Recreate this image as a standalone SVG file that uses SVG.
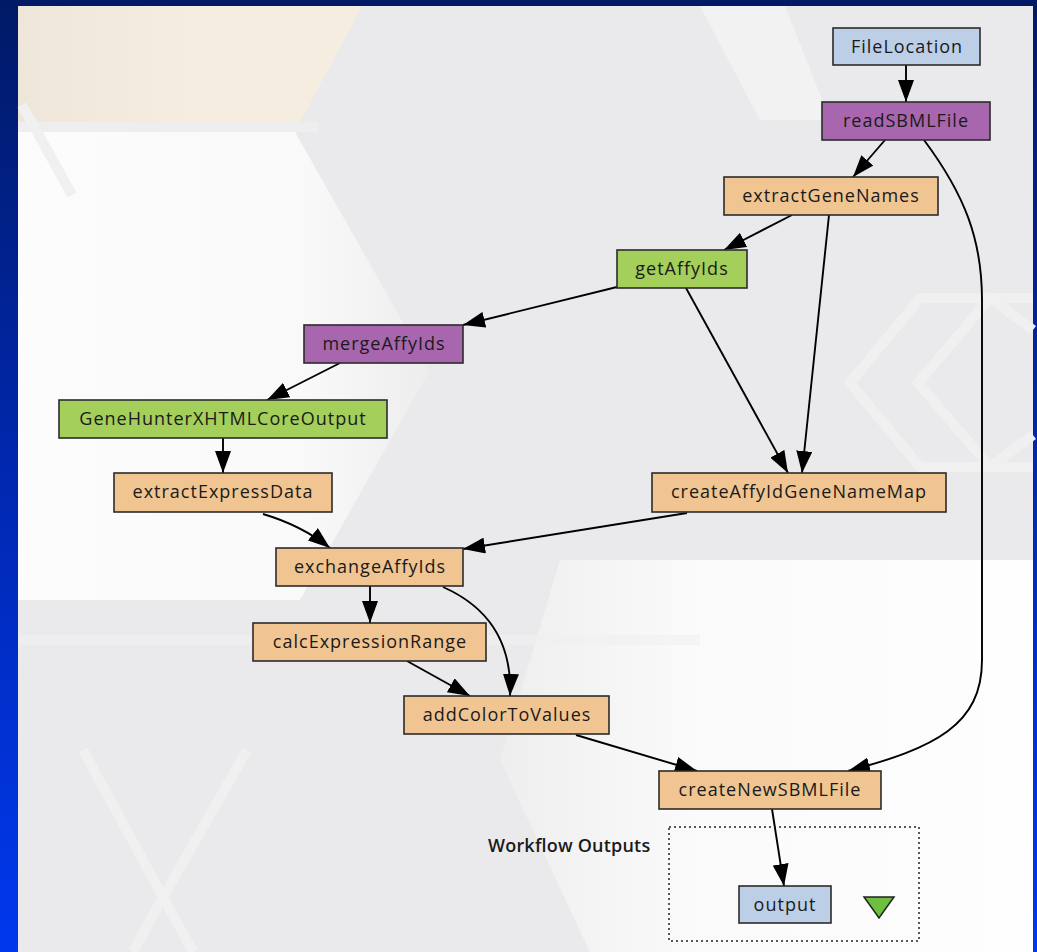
<svg xmlns="http://www.w3.org/2000/svg" width="1037" height="952" viewBox="0 0 1037 952">
<defs>
<linearGradient id="frame" x1="0" y1="0" x2="0" y2="1">
<stop offset="0" stop-color="#001a66"/>
<stop offset="0.5" stop-color="#0028b0"/>
<stop offset="1" stop-color="#0038ee"/>
</linearGradient>
<linearGradient id="beige" x1="0" y1="0" x2="1" y2="0">
<stop offset="0" stop-color="#efe6da"/>
<stop offset="0.5" stop-color="#f6ede1"/>
<stop offset="1" stop-color="#f6ede1"/>
</linearGradient>
<linearGradient id="whiteL" x1="0" y1="0" x2="1" y2="0">
<stop offset="0" stop-color="#fcfcfc"/>
<stop offset="0.7" stop-color="#f9f9fa"/>
<stop offset="1" stop-color="#ededee"/>
</linearGradient>
<linearGradient id="whiteR" x1="0" y1="0" x2="1" y2="0">
<stop offset="0" stop-color="#eeeeef"/>
<stop offset="0.35" stop-color="#fafafa"/>
<stop offset="1" stop-color="#fefefe"/>
</linearGradient>
<marker id="arr" markerWidth="22" markerHeight="16" refX="22" refY="8" orient="auto" markerUnits="userSpaceOnUse">
<path d="M0,0 L22,8 L0,16 z" fill="#000"/>
</marker>
<style>
.n rect{stroke:#2b2b2b;stroke-width:1.6}
.tan rect{fill:#f0c592}
.pur rect{fill:#a766ad}
.grn rect{fill:#a4cf5b}
.blu rect{fill:#bccfe7}
.n text{font-family:"Open Sans","DejaVu Sans",sans-serif;font-size:18px;letter-spacing:1px;fill:#1a1a1a;text-anchor:middle}
.c path{fill:none;stroke:#000;stroke-width:1.9;marker-end:url(#arr)}
.bgl{fill:none;stroke:#f0f0f1;stroke-width:10}
</style>
</defs>
<g id="background">
<rect x="0" y="0" width="1037" height="952" fill="url(#frame)"/>
<rect x="18" y="6" width="1015" height="946" fill="#eaeaec"/>
<polygon points="18,6 362,6 300,122 18,122" fill="url(#beige)"/>
<rect x="18" y="122" width="300" height="10" fill="#eeeeef"/>
<polygon points="18,132 295,132 430,370 300,600 18,600" fill="url(#whiteL)"/>
<polygon points="560,560 1033,560 1033,952 590,952 500,760" fill="url(#whiteR)"/>
<polygon points="700,6 785,6 830,120 760,120" fill="#f2f2f3"/>
<path class="bgl" d="M22,105 L72,195"/>
<path class="bgl" d="M83,750 L163,897 L133,952 M247,750 L163,897 L193,952"/>
<path class="bgl" d="M1033,298 L920,298 L850,383 L920,467 L1033,467 M1033,330 L990,298 L918,383 L990,467 L1033,435"/>
<path class="bgl" d="M18,640 L700,640" opacity="0.6"/>
</g>
<g id="connectors" class="c">
<path d="M906,65 L906,102"/>
<path d="M885,140 L853,177"/>
<path d="M924,140 C965,195 982,240 982,300 L982,660 C982,725 935,748 848,771"/>
<path d="M792,215 L724,250"/>
<path d="M829,215 L802,473"/>
<path d="M617,287 L463,325"/>
<path d="M686,288 L788,473"/>
<path d="M340,363 L267,400"/>
<path d="M223,438 L223,473"/>
<path d="M263,514 C290,522 310,532 330,548"/>
<path d="M687,513 L463,549"/>
<path d="M370,586 L370,623"/>
<path d="M443,587 C495,610 512,650 510,696"/>
<path d="M407,661 L470,696"/>
<path d="M576,735 L697,771"/>
<path d="M772,809 L784,886"/>
</g>
<g id="FileLocation" class="n blu"><rect x="833" y="28" width="147" height="37"/><text x="907" y="53">FileLocation</text></g>
<g id="readSBMLFile" class="n pur"><rect x="822" y="102" width="168" height="38"/><text x="906" y="127">readSBMLFile</text></g>
<g id="extractGeneNames" class="n tan"><rect x="724" y="177" width="214" height="38"/><text x="831" y="202">extractGeneNames</text></g>
<g id="getAffyIds" class="n grn"><rect x="617" y="250" width="130" height="38"/><text x="682" y="275">getAffyIds</text></g>
<g id="mergeAffyIds" class="n pur"><rect x="304" y="325" width="159" height="38"/><text x="384" y="350">mergeAffyIds</text></g>
<g id="GeneHunterXHTMLCoreOutput" class="n grn"><rect x="59" y="400" width="328" height="38"/><text x="223" y="425">GeneHunterXHTMLCoreOutput</text></g>
<g id="extractExpressData" class="n tan"><rect x="114" y="473" width="218" height="39"/><text x="223" y="498">extractExpressData</text></g>
<g id="createAffyIdGeneNameMap" class="n tan"><rect x="652" y="473" width="294" height="39"/><text x="799" y="498">createAffyIdGeneNameMap</text></g>
<g id="exchangeAffyIds" class="n tan"><rect x="276" y="548" width="187" height="38"/><text x="370" y="573">exchangeAffyIds</text></g>
<g id="calcExpressionRange" class="n tan"><rect x="253" y="623" width="233" height="38"/><text x="370" y="648">calcExpressionRange</text></g>
<g id="addColorToValues" class="n tan"><rect x="404" y="696" width="205" height="38"/><text x="507" y="721">addColorToValues</text></g>
<g id="createNewSBMLFile" class="n tan"><rect x="659" y="771" width="222" height="38"/><text x="770" y="796">createNewSBMLFile</text></g>
<g id="workflowOutputs">
<rect x="669" y="827" width="250" height="114" fill="none" stroke="#222" stroke-width="1.5" stroke-dasharray="2,3"/>
<text x="488" y="852" font-family="'Open Sans','DejaVu Sans',sans-serif" font-size="18" font-weight="600" letter-spacing="0.2" fill="#1a1a1a">Workflow Outputs</text>
<polygon points="864,897 894,897 879,918" fill="#6dbf3e" stroke="#222" stroke-width="1.5"/>
</g>
<g id="output" class="n blu"><rect x="739" y="886" width="92" height="37"/><text x="785" y="911">output</text></g>
</svg>
